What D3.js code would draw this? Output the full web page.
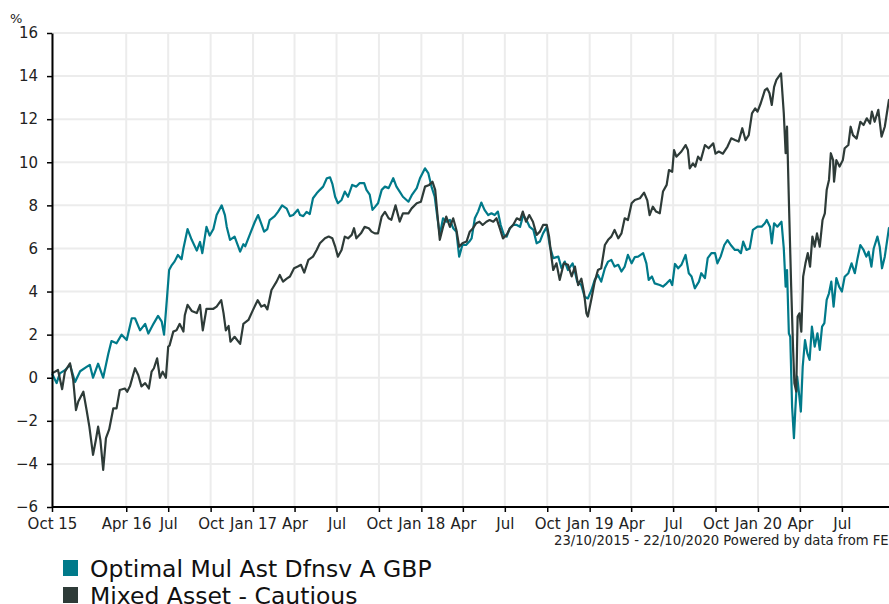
<!DOCTYPE html>
<html>
<head>
<meta charset="utf-8">
<script src="https://cdn.jsdelivr.net/npm/d3@7"></script>
<style>
  body { margin: 0; background: #fff; }
  svg { display: block; font-family: "DejaVu Sans", Verdana, sans-serif; }
</style>
</head>
<body>
<div id="chart"></div>
<script>
var width = 889, height = 604;

// series names and colours
var seriesNames = ["Optimal Mul Ast Dfnsv A GBP", "Mixed Asset - Cautious"];
var seriesColors = ["#007a8a", "#2e3b38"];

// y ticks
var yTicks = [-6, -4, -2, 0, 2, 4, 6, 8, 10, 12, 14, 16];

// x ticks (first one is the start of the period)
var xTickDates = ["2015-10-23", "2016-04-01", "2016-07-01", "2016-10-01", "2017-01-01", "2017-04-01",
  "2017-07-01", "2017-10-01", "2018-01-01", "2018-04-01", "2018-07-01", "2018-10-01",
  "2019-01-01", "2019-04-01", "2019-07-01", "2019-10-01", "2020-01-01", "2020-04-01", "2020-07-01"];
var xTickLabels = ["Oct 15", "Apr 16", "Jul", "Oct", "Jan 17", "Apr", "Jul", "Oct", "Jan 18", "Apr",
  "Jul", "Oct", "Jan 19", "Apr", "Jul", "Oct", "Jan 20", "Apr", "Jul"];

var startDate = "2015-10-23", endDate = "2020-10-22";

// fund: Optimal Mul Ast Dfnsv A GBP
var fundDates = [
  "2015-10-23","2015-11-02","2015-11-09","2015-11-20","2015-12-01","2015-12-12","2015-12-23","2016-01-06","2016-01-13","2016-01-20",
  "2016-01-31","2016-02-11","2016-02-22","2016-02-29","2016-03-11","2016-03-22","2016-04-02","2016-04-13","2016-04-20","2016-05-01",
  "2016-05-12","2016-05-19","2016-05-30","2016-06-09","2016-06-17","2016-06-22","2016-06-28","2016-07-03","2016-07-08","2016-07-15",
  "2016-07-22","2016-07-30","2016-08-03","2016-08-12","2016-08-21","2016-09-01","2016-09-08","2016-09-13","2016-09-22","2016-09-29",
  "2016-10-07","2016-10-14","2016-10-25","2016-11-01","2016-11-05","2016-11-12","2016-11-22","2016-12-04","2016-12-11","2016-12-15",
  "2016-12-26","2017-01-05","2017-01-12","2017-01-18","2017-01-25","2017-02-01","2017-02-06","2017-02-17","2017-02-24","2017-03-05",
  "2017-03-15","2017-03-22","2017-03-29","2017-04-08","2017-04-13","2017-04-20","2017-04-27","2017-05-04","2017-05-11","2017-05-19",
  "2017-05-26","2017-06-02","2017-06-10","2017-06-17","2017-06-22","2017-06-28","2017-07-04","2017-07-12","2017-07-19","2017-07-26",
  "2017-08-04","2017-08-13","2017-08-20","2017-08-30","2017-09-04","2017-09-11","2017-09-17","2017-09-23","2017-09-29","2017-10-07",
  "2017-10-14","2017-10-22","2017-11-01","2017-11-08","2017-11-15","2017-11-22","2017-12-04","2017-12-12","2017-12-22","2017-12-29",
  "2018-01-09","2018-01-16","2018-01-23","2018-01-30","2018-02-05","2018-02-10","2018-02-17","2018-02-24","2018-03-04","2018-03-11",
  "2018-03-18","2018-03-24","2018-03-31","2018-04-08","2018-04-15","2018-04-20","2018-04-27","2018-05-04","2018-05-11","2018-05-18",
  "2018-05-26","2018-06-02","2018-06-09","2018-06-16","2018-06-22","2018-06-29","2018-07-05","2018-07-12","2018-07-19","2018-07-27",
  "2018-08-03","2018-08-10","2018-08-17","2018-08-24","2018-09-01","2018-09-08","2018-09-15","2018-09-22","2018-09-30","2018-10-07",
  "2018-10-14","2018-10-25","2018-11-01","2018-11-08","2018-11-15","2018-11-25","2018-11-30","2018-12-05","2018-12-14","2018-12-21",
  "2018-12-28","2019-01-05","2019-01-12","2019-01-19","2019-01-26","2019-02-03","2019-02-10","2019-02-17","2019-02-24","2019-03-04",
  "2019-03-11","2019-03-18","2019-03-25","2019-04-02","2019-04-09","2019-04-16","2019-04-27","2019-05-04","2019-05-09","2019-05-16",
  "2019-05-22","2019-06-02","2019-06-09","2019-06-17","2019-06-24","2019-06-29","2019-07-05","2019-07-12","2019-07-19","2019-07-28",
  "2019-08-04","2019-08-10","2019-08-17","2019-08-26","2019-08-31","2019-09-08","2019-09-14","2019-09-22","2019-09-30","2019-10-05",
  "2019-10-12","2019-10-20","2019-10-27","2019-11-03","2019-11-12","2019-11-19","2019-11-25","2019-11-30","2019-12-07","2019-12-14",
  "2019-12-21","2019-12-31","2020-01-09","2020-01-16","2020-01-20","2020-01-27","2020-01-31","2020-02-05","2020-02-12","2020-02-21",
  "2020-02-26","2020-03-01","2020-03-04","2020-03-08","2020-03-11","2020-03-15","2020-03-19","2020-03-22","2020-03-26","2020-03-30",
  "2020-04-03","2020-04-07","2020-04-12","2020-04-17","2020-04-22","2020-04-27","2020-05-03","2020-05-09","2020-05-14","2020-05-19",
  "2020-05-24","2020-05-29","2020-06-03","2020-06-08","2020-06-13","2020-06-19","2020-06-25","2020-07-01","2020-07-07","2020-07-15",
  "2020-07-22","2020-07-29","2020-08-04","2020-08-10","2020-08-17","2020-08-23","2020-08-28","2020-09-03","2020-09-08","2020-09-16",
  "2020-09-21","2020-09-26","2020-10-02","2020-10-11","2020-10-22"];
var fundValues = [
  0.2,-0.25,0.2,0.35,0.6,-0.2,0.3,0.5,0.6,0.0,
  0.65,0.0,1.1,1.7,1.6,2.0,1.75,2.76,2.76,2.2,
  2.5,2.05,2.5,2.87,2.6,2.0,3.6,5.0,5.2,5.4,
  5.7,5.5,6.0,6.9,6.4,5.9,6.3,5.78,7.0,6.6,
  6.9,7.55,8.0,7.55,7.0,6.4,6.55,5.85,6.2,6.1,
  6.7,7.24,7.55,7.2,6.78,6.9,7.32,7.5,7.7,8.0,
  7.85,7.5,7.55,7.8,7.55,7.5,7.7,7.6,8.33,8.56,
  8.72,8.87,9.26,9.3,9.0,8.4,8.1,8.25,8.64,8.4,
  8.95,8.87,9.03,9.03,8.72,8.5,7.79,7.94,8.1,8.72,
  8.87,8.8,9.26,8.87,8.64,8.4,8.17,8.5,8.8,9.26,
  9.72,9.5,8.87,8.4,7.4,6.63,7.4,7.24,7.32,6.94,
  6.78,5.62,6.16,6.16,6.32,6.47,7.4,7.71,8.13,7.79,
  7.55,7.63,7.55,7.71,7.09,6.63,6.55,6.94,7.09,7.09,
  7.0,7.55,7.32,7.0,6.86,6.24,6.32,6.7,7.0,6.08,
  5.55,5.62,5.08,5.39,5.0,5.31,4.93,4.46,4.3,3.76,
  3.68,4.07,4.54,4.77,4.46,5.08,5.39,5.47,5.16,5.24,
  4.93,5.16,5.7,5.31,5.6,5.62,5.78,5.31,4.54,4.7,
  4.38,4.3,4.23,4.38,4.54,4.3,5.28,5.08,5.24,5.7,
  4.85,4.7,4.15,4.46,4.85,4.62,5.55,5.78,5.78,5.31,
  5.62,6.16,6.39,6.16,5.93,5.93,5.78,6.32,5.93,6.0,
  6.86,7.01,7.01,7.17,7.32,7.01,6.24,7.17,7.01,7.24,
  6.0,4.23,5.0,2.06,1.9,-1.34,-2.81,-1.49,0.05,-0.72,
  -1.57,0.51,1.75,1.14,0.83,2.37,1.44,2.06,1.29,2.37,
  2.53,3.61,3.92,4.46,3.3,4.62,4.23,4.0,4.69,4.85,
  5.31,4.85,5.55,6.16,5.93,5.62,5.85,5.16,6.0,6.55,
  6.08,5.08,5.62,6.94,7.1];

// sector: Mixed Asset - Cautious
var sectorDates = [
  "2015-10-23","2015-11-05","2015-11-14","2015-11-20","2015-12-01","2015-12-08","2015-12-14","2015-12-19","2015-12-30","2016-01-06",
  "2016-01-12","2016-01-20","2016-01-26","2016-01-31","2016-02-05","2016-02-11","2016-02-17","2016-02-24","2016-03-04","2016-03-11",
  "2016-03-18","2016-03-29","2016-04-03","2016-04-09","2016-04-20","2016-04-27","2016-05-04","2016-05-12","2016-05-20","2016-05-26",
  "2016-05-31","2016-06-07","2016-06-13","2016-06-19","2016-06-26","2016-07-01","2016-07-04","2016-07-12","2016-07-19","2016-07-26",
  "2016-08-03","2016-08-06","2016-08-12","2016-08-21","2016-09-01","2016-09-08","2016-09-14","2016-09-22","2016-10-07","2016-10-14",
  "2016-10-24","2016-10-29","2016-11-03","2016-11-09","2016-11-13","2016-11-22","2016-12-04","2016-12-11","2016-12-22","2017-01-01",
  "2017-01-11","2017-01-19","2017-01-26","2017-02-01","2017-02-10","2017-02-21","2017-02-28","2017-03-07","2017-03-15","2017-03-22",
  "2017-03-31","2017-04-08","2017-04-15","2017-04-22","2017-05-01","2017-05-11","2017-05-19","2017-05-26","2017-06-06","2017-06-14",
  "2017-06-22","2017-06-28","2017-07-04","2017-07-12","2017-07-19","2017-07-26","2017-08-03","2017-08-08","2017-08-13","2017-08-23",
  "2017-08-31","2017-09-09","2017-09-15","2017-09-22","2017-09-29","2017-10-07","2017-10-14","2017-10-22","2017-10-28","2017-11-06",
  "2017-11-15","2017-11-22","2017-12-04","2017-12-11","2017-12-22","2017-12-31","2018-01-09","2018-01-18","2018-01-25","2018-01-31",
  "2018-02-05","2018-02-10","2018-02-17","2018-02-24","2018-03-04","2018-03-11","2018-03-18","2018-03-24","2018-03-31","2018-04-09",
  "2018-04-16","2018-04-23","2018-04-30","2018-05-07","2018-05-14","2018-05-22","2018-05-29","2018-06-06","2018-06-13","2018-06-20",
  "2018-06-27","2018-07-05","2018-07-12","2018-07-19","2018-07-27","2018-08-03","2018-08-09","2018-08-16","2018-08-23","2018-08-31",
  "2018-09-08","2018-09-15","2018-09-22","2018-09-30","2018-10-05","2018-10-10","2018-10-14","2018-10-21","2018-10-28","2018-11-06",
  "2018-11-15","2018-11-23","2018-11-30","2018-12-07","2018-12-14","2018-12-20","2018-12-25","2018-12-28","2019-01-05","2019-01-12",
  "2019-01-19","2019-01-26","2019-02-03","2019-02-10","2019-02-17","2019-02-24","2019-03-04","2019-03-11","2019-03-18","2019-03-25",
  "2019-04-02","2019-04-09","2019-04-20","2019-04-29","2019-05-06","2019-05-11","2019-05-18","2019-05-25","2019-06-02","2019-06-09",
  "2019-06-17","2019-06-22","2019-06-29","2019-07-03","2019-07-08","2019-07-19","2019-07-28","2019-08-02","2019-08-06","2019-08-13",
  "2019-08-18","2019-08-24","2019-08-30","2019-09-08","2019-09-16","2019-09-26","2019-10-01","2019-10-08","2019-10-17","2019-10-27",
  "2019-11-04","2019-11-12","2019-11-20","2019-11-28","2019-12-05","2019-12-12","2019-12-19","2019-12-26","2019-12-31","2020-01-07",
  "2020-01-16","2020-01-21","2020-01-26","2020-01-31","2020-02-05","2020-02-10","2020-02-20","2020-02-26","2020-03-01","2020-03-04",
  "2020-03-08","2020-03-13","2020-03-17","2020-03-20","2020-03-24","2020-03-27","2020-03-31","2020-04-04","2020-04-08","2020-04-13",
  "2020-04-18","2020-04-23","2020-04-28","2020-05-03","2020-05-08","2020-05-14","2020-05-20","2020-05-25","2020-05-29","2020-06-03",
  "2020-06-07","2020-06-12","2020-06-14","2020-06-19","2020-06-26","2020-07-03","2020-07-07","2020-07-15","2020-07-20","2020-07-25",
  "2020-08-02","2020-08-10","2020-08-17","2020-08-24","2020-08-31","2020-09-04","2020-09-10","2020-09-18","2020-09-25","2020-10-02",
  "2020-10-11","2020-10-22"];
var sectorValues = [
  0.2,0.36,-0.53,0.28,0.67,-0.1,-1.5,-1.1,-0.65,-1.5,
  -2.27,-3.58,-2.9,-2.27,-2.9,-4.28,-2.8,-2.4,-1.42,-1.42,
  -0.57,-0.5,-0.65,-0.4,0.44,0.13,-0.4,-0.25,-0.5,0.28,
  0.44,0.9,0.0,0.28,0.0,1.44,1.5,2.14,2.2,2.5,
  2.14,2.9,3.38,3.1,3.0,3.38,2.2,3.2,3.2,3.3,
  3.6,3.0,2.2,2.4,1.67,1.9,1.57,2.5,2.68,3.15,
  3.6,3.3,3.38,3.17,4.07,4.46,4.77,4.46,4.6,4.7,
  5.08,5.16,5.24,4.88,5.47,5.62,5.93,6.24,6.47,6.55,
  6.47,6.1,5.62,5.93,6.55,6.47,6.63,6.94,6.47,6.7,
  7.0,6.94,6.78,6.7,6.7,7.48,7.7,7.4,7.33,8.0,
  7.25,7.63,7.63,7.86,8.1,8.17,8.87,8.95,9.1,8.72,
  7.55,6.4,7.0,7.48,7.0,7.4,6.86,6.08,6.24,6.32,
  6.78,6.94,7.17,7.24,7.09,7.24,7.32,7.24,7.4,6.94,
  6.47,6.63,6.94,7.09,7.4,7.32,7.71,7.24,7.55,7.24,
  6.63,6.78,7.09,7.09,6.55,5.62,5.0,5.31,4.54,5.31,
  5.24,4.7,5.16,4.3,4.6,3.92,2.99,2.84,3.68,4.46,
  5.0,5.08,6.16,6.4,6.55,6.86,6.47,6.7,7.4,7.32,
  8.1,8.25,8.33,8.59,8.23,7.55,7.94,7.71,7.63,8.64,
  8.95,9.64,9.56,10.57,10.26,10.5,10.8,10.57,9.72,9.95,
  9.8,10.26,10.1,10.8,10.65,10.88,10.4,10.5,10.4,10.73,
  11.11,11.03,10.96,11.58,11.03,11.26,12.27,12.5,12.35,12.74,
  13.35,13.43,13.2,12.66,13.5,13.82,14.13,12.27,10.42,11.65,
  8.25,4.23,1.44,-0.26,-0.64,2.84,2.99,2.14,4.69,5.31,
  5.78,5.16,6.55,6.08,6.7,6.08,7.32,7.63,8.71,9.18,
  10.42,10.1,9.1,10.1,9.8,10.1,10.65,10.8,11.65,11.26,
  11.1,11.88,11.73,12.04,11.8,12.35,11.88,12.43,11.19,11.65,
  12.89,13.0];

var parse = d3.timeParse("%Y-%m-%d");

function toPoints(dates, values) {
  return dates.map(function(d, i) { return { date: parse(d), value: values[i] }; });
}
var series = [toPoints(fundDates, fundValues), toPoints(sectorDates, sectorValues)];

var svg = d3.select("#chart")
  .append("svg")
    .attr("width", width)
    .attr("height", height);

var x = d3.scaleTime()
  .domain([parse(startDate), parse(endDate)])
  .range([52, 894]);

var y = d3.scaleLinear()
  .domain([-6, 16])
  .range([507, 33]);

// grid
svg.append("g")
  .selectAll("line")
  .data(yTicks)
  .enter()
  .append("line")
    .attr("x1", x.range()[0])
    .attr("x2", width)
    .attr("y1", function(d) { return y(d); })
    .attr("y2", function(d) { return y(d); })
    .attr("stroke", "#ececec")
    .attr("stroke-width", 2);

svg.append("g")
  .selectAll("line")
  .data(xTickDates)
  .enter()
  .append("line")
    .attr("x1", function(d) { return x(parse(d)); })
    .attr("x2", function(d) { return x(parse(d)); })
    .attr("y1", y.range()[1])
    .attr("y2", y.range()[0])
    .attr("stroke", "#ececec")
    .attr("stroke-width", 2);

// lines
var line = d3.line()
  .x(function(d) { return x(d.date); })
  .y(function(d) { return y(d.value); });

svg.append("g")
  .selectAll("path")
  .data(series)
  .enter()
  .append("path")
    .attr("d", line)
    .attr("fill", "none")
    .attr("stroke", function(d, i) { return seriesColors[i]; })
    .attr("stroke-width", 2.2)
    .attr("stroke-linejoin", "round");

// axes
var yAxis = svg.append("g")
  .attr("transform", "translate(52,0)")
  .call(d3.axisLeft(y).tickValues(yTicks).tickSize(5).tickSizeOuter(0).tickPadding(9));

var xAxis = svg.append("g")
  .attr("transform", "translate(0,507)")
  .call(d3.axisBottom(x)
    .tickValues(xTickDates.map(parse))
    .tickFormat(function(d, i) { return xTickLabels[i]; })
    .tickSize(5).tickSizeOuter(0).tickPadding(6));

[yAxis, xAxis].forEach(function(a) {
  a.select(".domain").attr("stroke", "#000").attr("stroke-width", 2);
  a.selectAll(".tick line").attr("stroke", "#000").attr("stroke-width", 1.5);
  a.selectAll("text").attr("font-size", 15).attr("font-family", "DejaVu Sans, Verdana, sans-serif").attr("fill", "#222");
});
xAxis.select(".domain").attr("d", "M52,0H" + width);

svg.append("text")
  .attr("x", 10)
  .attr("y", 23)
  .attr("font-size", 13)
  .attr("fill", "#222")
  .text("%");

svg.append("text")
  .attr("x", 554)
  .attr("y", 545)
  .attr("font-size", 13.2)
  .attr("fill", "#222")
  .text("23/10/2015 - 22/10/2020 Powered by data from FE");

// legend
var legend = svg.append("g")
  .selectAll("g")
  .data(seriesNames)
  .enter()
  .append("g")
    .attr("transform", function(d, i) { return "translate(63," + (560 + i * 27) + ")"; });

legend.append("rect")
  .attr("width", 15)
  .attr("height", 16)
  .attr("fill", function(d, i) { return seriesColors[i]; });

legend.append("text")
  .attr("x", 27)
  .attr("y", 16.5)
  .attr("font-size", 23.5)
  .attr("fill", "#111")
  .text(function(d) { return d; });
</script>
</body>
</html>
